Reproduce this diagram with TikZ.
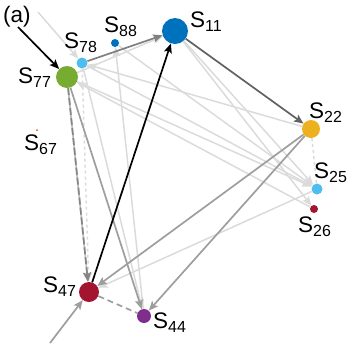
\documentclass[tikz,border=0pt]{standalone}
\usepackage{fontspec}
\setmainfont{Liberation Sans}
\usepackage{xcolor}
\usepackage{tikz}
\usetikzlibrary{arrows.meta, calc}
\definecolor{mblue}{HTML}{0072BD}
\definecolor{mlblue}{HTML}{4DBEEE}
\definecolor{myellow}{HTML}{EDB120}
\definecolor{mred}{HTML}{A2142F}
\definecolor{mpurple}{HTML}{7E2F8E}
\definecolor{mgreen}{HTML}{77AC30}
\definecolor{morange}{HTML}{D95319}
\newcommand{\sname}[1]{S\raisebox{-4.5pt}{\fontsize{16}{16}\selectfont #1}}
\tikzstyle{state} = [circle, inner sep=0pt, draw=none]
\tikzstyle{lbl} = [anchor=base west, inner sep=0pt, font=\fontsize{22.5}{22.5}\selectfont]
\tikzstyle{arrow} = [line width=1.7pt,->,>={Stealth[length=9.5pt,width=8pt,inset=2pt]}]
\tikzstyle{faint} = [arrow, line width=1.5pt, draw=black!14]
\tikzstyle{medium} = [arrow, draw=black!38]

\begin{document}
\begin{tikzpicture}[x=1pt, y=-1pt]
\useasboundingbox (0,0) rectangle (349,349);

% states
\node [state, minimum size=26pt, fill=mblue] (s11) at (175,31) {};
\node [state, minimum size=18pt, fill=myellow] (s22) at (311,129) {};
\node [state, minimum size=11pt, fill=mlblue] (s25) at (317,189) {};
\node [state, minimum size=8pt, fill=mred] (s26) at (314,209) {};
\node [state, minimum size=14pt, fill=mpurple] (s44) at (144,316) {};
\node [state, minimum size=20pt, fill=mred] (s47) at (89,292) {};
\node [state, minimum size=2pt, fill=morange] (s67) at (37,130) {};
\node [state, minimum size=22pt, fill=mgreen] (s77) at (67,77) {};
\node [state, minimum size=11pt, fill=mlblue] (s78) at (82,63) {};
\node [state, minimum size=8pt, fill=mblue] (s88) at (115,43) {};

\coordinate (in77) at (18,27);
\coordinate (in47) at (50,343);
\coordinate (in78) at (38,12);

% faint transitions
\draw [faint] (in78) -- (s78);
\draw [faint] (s77) -- (s11);
\draw [faint] (s77) -- (s25);
\draw [faint] (s78) -- (s25);
\draw [faint] (s88) -- (s25);
\draw [faint] (s26) -- (s77);
\draw [faint] (s22) -- (s78);
\draw [faint] (s11) -- (s25);
\draw [faint] (s11) -- (s26);
\draw [faint] (s25) -- (s47);
\draw [faint] (s78) -- (s44);
\draw [faint] (s44) -- (s88);
\draw [faint, dashed] (s78) -- (s47);
\draw [faint, -, dashed] (s22) -- (s25);

% main transitions
\draw [medium] (in47) -- (s47);
\draw [arrow, draw=black!50] (s78) -- (s11);
\draw [medium, draw=black!25] (s77) -- (s47);
\draw [medium, draw=black!48, dash pattern=on 7pt off 3pt] (s77) -- (s47);
\draw [medium] (s77) -- (s44);
\draw [medium] (s22) -- (s47);
\draw [medium] (s22) -- (s44);
\draw [medium, -, dash pattern=on 6pt off 4pt] (s47) -- (s44);
\draw [arrow, draw=black!62] (s11) -- (s22);
\draw [arrow, draw=black] (in77) -- (s77);
\draw [arrow, draw=black] (s47) -- (s11);

% labels
\node [lbl] (t11) at (190,27) {\sname{11}};
\node [lbl] (t22) at (309,118) {\sname{22}};
\node [lbl] (t25) at (314,178) {\sname{25}};
\node [lbl] (t26) at (298,232) {\sname{26}};
\node [lbl] (t44) at (153,328) {\sname{44}};
\node [lbl] (t47) at (43,292) {\sname{47}};
\node [lbl] (t67) at (24,150) {\sname{67}};
\node [lbl] (t77) at (18,83) {\sname{77}};
\node [lbl] (t78) at (64,48) {\sname{78}};
\node [lbl] (t88) at (104,32) {\sname{88}};
\node [lbl] (ta) at (3,22) {(a)};
\end{tikzpicture}
\end{document}
